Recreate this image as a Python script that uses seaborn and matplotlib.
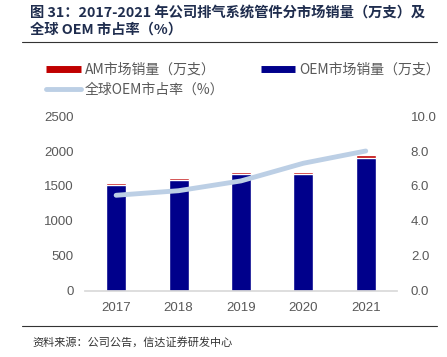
import numpy as np
import pandas as pd
import matplotlib
matplotlib.use("Agg")
import matplotlib.pyplot as plt
import seaborn as sns
from matplotlib.lines import Line2D

# Data
years = ["2017", "2018", "2019", "2020", "2021"]
oem_sales = [1510, 1590, 1670, 1665, 1905]   # OEM市场销量（万支）
am_sales = [30, 28, 28, 28, 42]              # AM市场销量（万支）
oem_share = [5.47, 5.73, 6.29, 7.30, 8.00]   # 全球OEM市占率（%）

df = pd.DataFrame({"year": years, "OEM": oem_sales, "AM": am_sales, "share": oem_share})
df["total"] = df["OEM"] + df["AM"]
df["idx"] = np.arange(len(df))

sns.set_theme(style="white")
plt.rcParams["font.family"] = ["Noto Sans CJK SC", "DejaVu Sans"]
plt.rcParams["axes.unicode_minus"] = False

red = "#C00000"
blue = "#00008B"
light = "#BCCFE5"
grey = "#595959"
num_font = "Liberation Sans"

fig = plt.figure(figsize=(4.47, 3.57), dpi=100)
ax = fig.add_axes([0.19, 0.185, 0.698, 0.49])

# stacked bars: total in red, OEM in blue over it
sns.barplot(data=df, x="year", y="total", color=red, width=0.32, ax=ax, saturation=1)
sns.barplot(data=df, x="year", y="OEM", color=blue, width=0.32, ax=ax, saturation=1)

ax.set_ylim(0, 2500)
ax.set_yticks(range(0, 2501, 500))
ax.set_xlim(-0.5, 4.5)
ax.set_xlabel("")
ax.set_ylabel("")
for s in ["top", "right", "left"]:
    ax.spines[s].set_visible(False)
ax.spines["bottom"].set_color("#D9D9D9")
ax.tick_params(axis="both", colors=grey, labelsize=9.5, length=0, pad=8)
for t in ax.get_xticklabels() + ax.get_yticklabels():
    t.set_fontfamily(num_font)

ax2 = ax.twinx()
sns.lineplot(data=df, x="idx", y="share", color=light, linewidth=3.5, ax=ax2)
ax2.set_ylim(0, 10)
ax2.set_yticks(np.arange(0, 10.1, 2))
ax2.set_yticklabels([f"{v:.1f}" for v in np.arange(0, 10.1, 2)])
ax2.set_ylabel("")
ax2.set_xlabel("")
for s in ["top", "right", "left", "bottom"]:
    ax2.spines[s].set_visible(False)
ax2.tick_params(axis="y", colors=grey, labelsize=9.5, length=0, pad=10)
for t in ax2.get_yticklabels():
    t.set_fontfamily(num_font)
ax.set_xlim(-0.5, 4.5)

# legend
handles = [
    Line2D([], [], color=red, lw=5, solid_capstyle="butt"),
    Line2D([], [], color=light, lw=3.5),
    Line2D([], [], color=blue, lw=5, solid_capstyle="butt"),
]
labels = ["AM市场销量（万支）", "全球OEM市占率（%）", "OEM市场销量（万支）"]
fig.legend(handles, labels, ncol=2, loc="upper left", bbox_to_anchor=(0.075, 0.86),
           frameon=False, fontsize=10, labelcolor=grey, handlelength=2.5,
           handletextpad=0.3, columnspacing=2.6, labelspacing=0.45)

# title, rules and source
fig.text(0.068, 0.985, "图 31：2017-2021 年公司排气系统管件分市场销量（万支）及\n全球 OEM 市占率（%）",
         ha="left", va="top", fontsize=10.3, fontweight="bold", color="#1F2D4E", linespacing=1.3)
fig.add_artist(Line2D([0.05, 0.978], [0.882, 0.882], color="#333333", lw=0.8))
fig.add_artist(Line2D([0.05, 0.978], [0.087, 0.087], color="#333333", lw=0.8))
fig.text(0.072, 0.04, "资料来源：公司公告，信达证券研发中心", ha="left", va="center",
         fontsize=8, color="#333333", style="italic")

fig.savefig("out.png", dpi=100)
